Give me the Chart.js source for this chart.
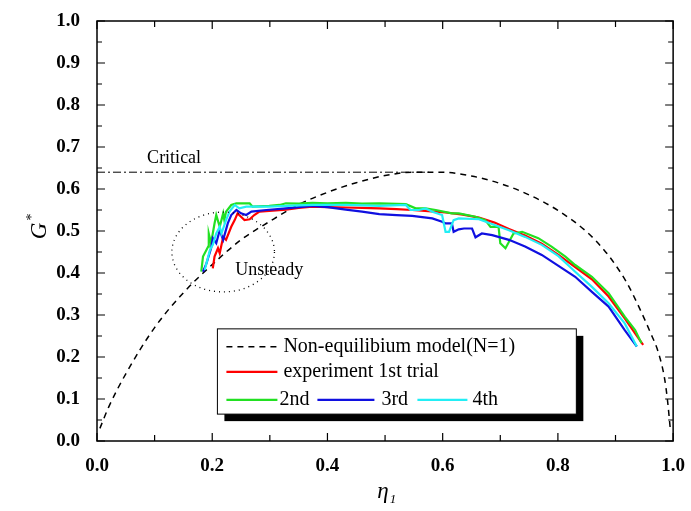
<!DOCTYPE html>
<html>
<head>
<meta charset="utf-8">
<script src="https://cdn.jsdelivr.net/npm/chart.js@4.4.0/dist/chart.umd.min.js"></script>
<style>
  html, body { margin: 0; padding: 0; background: #fff; }
  #wrap { width: 691px; height: 511px; }
</style>
</head>
<body>
<div id="wrap"><canvas id="g-chart" width="691" height="511"></canvas></div>
<script>
// model curve (Non-equilibium model, N=1)
var etaModel = [0.005, 0.02, 0.05, 0.1, 0.15, 0.2, 0.25, 0.3, 0.35, 0.4, 0.45, 0.5, 0.55, 0.6, 0.65, 0.7, 0.75, 0.8, 0.85, 0.88, 0.9, 0.92, 0.94, 0.96, 0.975, 0.985, 0.99, 0.995];
var gModel = [0.03, 0.08, 0.16, 0.27, 0.353, 0.42, 0.479, 0.523, 0.563, 0.592, 0.615, 0.632, 0.64, 0.64, 0.631, 0.613, 0.586, 0.549, 0.498, 0.455, 0.419, 0.376, 0.321, 0.26, 0.208, 0.15, 0.1, 0.03];

// critical line
var etaCritical = [0, 0.576];
var gCritical = [0.64, 0.64];

// experiments [eta, G]
var trial1 = [[0.201,0.411],[0.204,0.439],[0.21,0.459],[0.213,0.447],[0.219,0.486],[0.224,0.479],[0.233,0.51],[0.239,0.526],[0.244,0.542],[0.25,0.534],[0.256,0.526],[0.265,0.528],[0.273,0.538],[0.282,0.546],[0.299,0.548],[0.328,0.551],[0.35,0.555],[0.374,0.558],[0.4,0.557],[0.432,0.556],[0.46,0.555],[0.49,0.554],[0.52,0.552],[0.547,0.55],[0.575,0.547],[0.605,0.544],[0.635,0.539],[0.663,0.532],[0.69,0.52],[0.715,0.505],[0.743,0.489],[0.772,0.47],[0.801,0.443],[0.83,0.414],[0.859,0.385],[0.888,0.344],[0.916,0.292],[0.934,0.256],[0.948,0.229]];
var trial2 = [[0.181,0.403],[0.184,0.439],[0.193,0.463],[0.194,0.494],[0.198,0.471],[0.204,0.518],[0.207,0.538],[0.213,0.51],[0.219,0.542],[0.221,0.526],[0.224,0.546],[0.233,0.562],[0.242,0.566],[0.265,0.566],[0.27,0.558],[0.299,0.56],[0.317,0.562],[0.328,0.566],[0.35,0.565],[0.374,0.567],[0.4,0.566],[0.432,0.567],[0.46,0.565],[0.49,0.566],[0.536,0.564],[0.553,0.554],[0.57,0.554],[0.588,0.55],[0.616,0.542],[0.628,0.542],[0.657,0.534],[0.674,0.526],[0.683,0.51],[0.697,0.51],[0.7,0.471],[0.709,0.459],[0.717,0.479],[0.723,0.494],[0.738,0.498],[0.766,0.483],[0.789,0.463],[0.813,0.439],[0.83,0.419],[0.859,0.391],[0.888,0.352],[0.916,0.296],[0.934,0.264],[0.945,0.233]];
var trial3 = [[0.184,0.403],[0.19,0.423],[0.198,0.459],[0.201,0.483],[0.207,0.471],[0.213,0.502],[0.219,0.479],[0.227,0.518],[0.233,0.538],[0.242,0.55],[0.25,0.542],[0.259,0.538],[0.268,0.546],[0.294,0.55],[0.328,0.554],[0.374,0.56],[0.4,0.557],[0.432,0.551],[0.46,0.546],[0.49,0.54],[0.52,0.538],[0.547,0.536],[0.582,0.53],[0.599,0.522],[0.605,0.518],[0.616,0.518],[0.619,0.498],[0.628,0.504],[0.637,0.506],[0.651,0.506],[0.657,0.485],[0.668,0.494],[0.686,0.49],[0.715,0.479],[0.743,0.463],[0.772,0.443],[0.801,0.417],[0.83,0.391],[0.859,0.355],[0.888,0.32],[0.916,0.264],[0.931,0.236],[0.937,0.225]];
var trial4 = [[0.187,0.407],[0.196,0.455],[0.201,0.467],[0.207,0.494],[0.213,0.51],[0.216,0.494],[0.224,0.526],[0.23,0.546],[0.239,0.562],[0.247,0.554],[0.259,0.558],[0.299,0.558],[0.328,0.56],[0.374,0.562],[0.432,0.562],[0.49,0.56],[0.536,0.562],[0.544,0.55],[0.559,0.55],[0.57,0.554],[0.582,0.546],[0.599,0.538],[0.605,0.498],[0.611,0.498],[0.619,0.526],[0.628,0.53],[0.663,0.528],[0.715,0.502],[0.743,0.486],[0.772,0.467],[0.801,0.44],[0.83,0.403],[0.859,0.367],[0.888,0.328],[0.916,0.28],[0.937,0.225]];

var FONT = "'Liberation Serif', 'Times New Roman', serif";

function pairs(xs, ys) {
    return xs.map(function (x, i) { return { x: x, y: ys[i] }; });
}
function pts(arr) {
    return arr.map(function (p) { return { x: p[0], y: p[1] }; });
}

// frame, inner ticks, annotations, axis titles and legend box
var decorations = {
    id: 'decorations',
    afterDraw: function (chart) {
        var ctx = chart.ctx, a = chart.chartArea;
        var xs = chart.scales.x, ys = chart.scales.y;
        ctx.save();

        // dotted "unsteady" ellipse
        var cx = xs.getPixelForValue(0.219), cy = ys.getPixelForValue(0.45);
        var rx = xs.getPixelForValue(0.219 + 0.089) - cx;
        var ry = cy - ys.getPixelForValue(0.45 + 0.095);
        ctx.beginPath();
        ctx.setLineDash([1, 4]);
        ctx.lineWidth = 1.3;
        ctx.strokeStyle = '#000';
        ctx.ellipse(cx, cy, rx, ry, 0, 0, Math.PI * 2);
        ctx.stroke();
        ctx.setLineDash([]);

        ctx.fillStyle = '#000';
        ctx.font = '18px ' + FONT;
        ctx.textBaseline = 'middle';
        ctx.textAlign = 'left';
        ctx.fillText('Critical', xs.getPixelForValue(0.087), ys.getPixelForValue(0.672));
        ctx.fillText('Unsteady', xs.getPixelForValue(0.24), ys.getPixelForValue(0.406));

        // frame
        ctx.lineWidth = 1.5;
        ctx.strokeStyle = '#000';
        ctx.strokeRect(a.left, a.top, a.right - a.left, a.bottom - a.top);

        // inner ticks
        ctx.lineWidth = 1.2;
        ctx.beginPath();
        for (var i = 0; i <= 20; i++) {
            var v = i * 0.05;
            var len = i % 2 === 0 ? 8 : 5;
            var py = ys.getPixelForValue(v);
            ctx.moveTo(a.left, py); ctx.lineTo(a.left + len, py);
            ctx.moveTo(a.right, py); ctx.lineTo(a.right - len, py);
        }
        for (var j = 0; j <= 10; j++) {
            var len2 = j % 2 === 0 ? 8 : 6;
            var px = xs.getPixelForValue(j * 0.1);
            ctx.moveTo(px, a.bottom); ctx.lineTo(px, a.bottom - len2);
            ctx.moveTo(px, a.top); ctx.lineTo(px, a.top + len2);
        }
        ctx.stroke();

        // axis titles
        ctx.font = 'italic 23px ' + FONT;
        ctx.textAlign = 'center';
        ctx.textBaseline = 'middle';
        ctx.save();
        ctx.translate(40, (a.top + a.bottom) / 2);
        ctx.rotate(-Math.PI / 2);
        ctx.fillText('G', 0, 0);
        ctx.font = '14px ' + FONT;
        ctx.fillText('*', 14, -8);
        ctx.restore();

        var tx = (a.left + a.right) / 2;
        ctx.font = 'italic 23px ' + FONT;
        ctx.fillText('\u03B7', tx - 2, 492);
        ctx.font = 'italic 13px ' + FONT;
        ctx.fillText('1', tx + 8, 500);

        // legend box
        var bl = xs.getPixelForValue(0.209), br = xs.getPixelForValue(0.832);
        var bt = ys.getPixelForValue(0.267), bb = ys.getPixelForValue(0.064);
        ctx.fillStyle = '#000';
        ctx.fillRect(bl + 7, bt + 7, br - bl, bb - bt);
        ctx.fillStyle = '#fff';
        ctx.fillRect(bl, bt, br - bl, bb - bt);
        ctx.lineWidth = 1;
        ctx.strokeStyle = '#000';
        ctx.strokeRect(bl, bt, br - bl, bb - bt);

        var ds = chart.data.datasets;
        function sample(d, x0, x1, y) {
            ctx.beginPath();
            ctx.strokeStyle = d.borderColor;
            ctx.lineWidth = d.borderWidth;
            ctx.setLineDash(d.borderDash || []);
            ctx.moveTo(x0, y); ctx.lineTo(x1, y);
            ctx.stroke();
            ctx.setLineDash([]);
        }
        ctx.font = '20px ' + FONT;
        ctx.textAlign = 'left';
        ctx.textBaseline = 'middle';
        ctx.fillStyle = '#000';
        var r1 = bt + 18, r2 = bt + 43, r3 = bt + 71;
        sample(ds[0], bl + 9, bl + 60, r1);
        ctx.fillText(ds[0].label, bl + 66, r1);
        sample(ds[2], bl + 9, bl + 60, r2);
        ctx.fillText(ds[2].label, bl + 66, r2);
        sample(ds[3], bl + 9, bl + 60, r3);
        ctx.fillText(ds[3].label, bl + 62, r3);
        sample(ds[4], bl + 100, bl + 157, r3);
        ctx.fillText(ds[4].label, bl + 164, r3);
        sample(ds[5], bl + 200, bl + 250, r3);
        ctx.fillText(ds[5].label, bl + 255, r3);

        ctx.restore();
    }
};

new Chart(document.getElementById('g-chart'), {
    type: 'scatter',
    data: {
        datasets: [{
            label: 'Non-equilibium model(N=1)',
            data: pairs(etaModel, gModel),
            showLine: true,
            borderColor: '#000',
            borderWidth: 1.5,
            borderDash: [6, 5],
            pointRadius: 0,
            cubicInterpolationMode: 'monotone',
            order: 6
        }, {
            label: 'Critical',
            data: pairs(etaCritical, gCritical),
            showLine: true,
            borderColor: '#000',
            borderWidth: 1,
            borderDash: [8, 3, 2, 3],
            pointRadius: 0,
            order: 5
        }, {
            label: 'experiment 1st trial',
            data: pts(trial1),
            showLine: true,
            borderColor: '#ff0000',
            borderWidth: 2.2,
            pointRadius: 0,
            order: 4
        }, {
            label: '2nd',
            data: pts(trial2),
            showLine: true,
            borderColor: '#22e022',
            borderWidth: 2.2,
            pointRadius: 0,
            order: 3
        }, {
            label: '3rd',
            data: pts(trial3),
            showLine: true,
            borderColor: '#1010e0',
            borderWidth: 2.2,
            pointRadius: 0,
            order: 2
        }, {
            label: '4th',
            data: pts(trial4),
            showLine: true,
            borderColor: '#22eef5',
            borderWidth: 2.2,
            pointRadius: 0,
            order: 1
        }]
    },
    options: {
        responsive: false,
        animation: false,
        layout: { padding: { top: 21, right: 16, left: 0, bottom: 0 } },
        plugins: {
            legend: { display: false },
            tooltip: { enabled: false }
        },
        scales: {
            x: {
                type: 'linear',
                min: 0,
                max: 1,
                grid: { display: false },
                border: { display: false },
                ticks: {
                    stepSize: 0.2,
                    padding: 6,
                    color: '#000',
                    font: { family: FONT, size: 19, weight: 'bold' },
                    callback: function (v) { return v.toFixed(1); }
                },
                afterFit: function (s) { s.height = 70; }
            },
            y: {
                min: 0,
                max: 1,
                grid: { display: false },
                border: { display: false },
                ticks: {
                    stepSize: 0.1,
                    padding: 9,
                    color: '#000',
                    font: { family: FONT, size: 19, weight: 'bold' },
                    callback: function (v) { return v.toFixed(1); }
                },
                afterFit: function (s) { s.width = 97; }
            }
        }
    },
    plugins: [decorations]
});
</script>
</body>
</html>
